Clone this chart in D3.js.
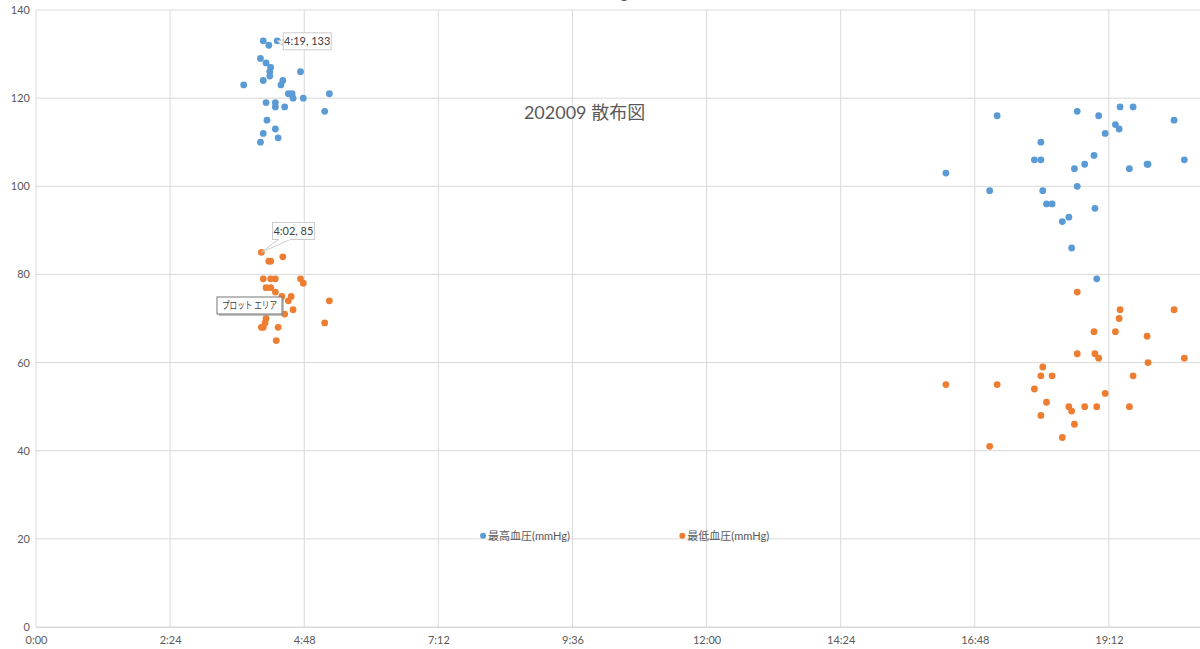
<!DOCTYPE html>
<html>
<head>
<meta charset="utf-8">
<script src="https://cdn.jsdelivr.net/npm/d3@7"></script>
<style>
  body { margin: 0; background: #fff; }
  svg { display: block; }
</style>
</head>
<body>
<div id="chart"></div>
<script>
// 202009 blood pressure scatter (time of day vs mmHg)

// systolic readings: time of day + value
const sysTimes = ["3:43","4:01","4:01","4:04","4:04","4:04","4:07","4:07","4:08","4:10",
  "4:11","4:11","4:12","4:17","4:17","4:17","4:19","4:20","4:23","4:25",
  "4:27","4:31","4:35","4:36","4:44","4:47","5:10","5:15",
  "16:17","17:04","17:12","17:52","17:59","17:59","18:01","18:05","18:11","18:22",
  "18:29","18:32","18:35","18:38","18:38","18:46","18:56","18:57","18:59","19:01",
  "19:08","19:19","19:23","19:24","19:34","19:38","19:53","19:54","20:22","20:33"];
const sysValues = [123,129,110,133,124,112,128,119,115,132,
  126,125,127,119,118,113,133,111,123,124,
  118,121,121,120,126,120,117,121,
  103,99,116,106,110,106,99,96,96,92,
  93,86,104,117,100,105,107,95,79,116,
  112,114,113,118,104,118,105,105,115,106];

// diastolic readings
const diaTimes = ["3:43","4:02","4:02","4:04","4:04","4:06","4:07","4:07","4:10","4:12",
  "4:12","4:12","4:17","4:17","4:17","4:18","4:20","4:24","4:25","4:27",
  "4:31","4:34","4:36","4:44","4:47","5:10","5:15",
  "16:17","17:04","17:12","17:52","17:59","17:59","18:01","18:05","18:11","18:22",
  "18:29","18:32","18:35","18:38","18:38","18:46","18:56","18:57","18:59","19:01",
  "19:08","19:19","19:23","19:24","19:34","19:38","19:53","19:54","20:22","20:33"];
const diaValues = [73,85,68,79,68,69,77,70,83,83,
  79,77,72,79,76,65,68,75,84,71,
  74,75,72,79,78,69,74,
  55,41,55,54,57,48,59,51,57,43,
  50,49,46,62,76,50,67,62,50,61,
  53,67,70,72,50,57,66,60,72,61];

const seriesNames = ["最高血圧(mmHg)", "最低血圧(mmHg)"];
const seriesColors = ["#5b9bd5", "#ed7d31"];
const yTicks = [0, 20, 40, 60, 80, 100, 120, 140];
const xTickStep = 144; // minutes (0.1 day)
const chartTitle = "202009 散布図";

const W = 1200, H = 649;
const margin = {top: 10, right: -43, bottom: 22, left: 36};
const width = W - margin.left - margin.right,
      height = H - margin.top - margin.bottom;

function toMin(t) {
  const p = t.split(":");
  return (+p[0]) * 60 + (+p[1]);
}
function fmtMin(m) {
  const h = Math.floor(m / 60), mm = Math.round(m % 60);
  return h + ":" + String(mm).padStart(2, "0");
}

const sysData = sysTimes.map((t, i) => ({t: toMin(t), v: sysValues[i]}));
const diaData = diaTimes.map((t, i) => ({t: toMin(t), v: diaValues[i]}));

const svg = d3.select("#chart").append("svg")
  .attr("width", W).attr("height", H)
  .style("font-family", "Lato, 'Noto Sans CJK JP', sans-serif");

const g = svg.append("g")
  .attr("transform", "translate(" + margin.left + "," + margin.top + ")");

const x = d3.scaleLinear().domain([0, 1296]).range([0, width]);
const y = d3.scaleLinear().domain([0, 140]).range([height, 0]);
const xTicks = d3.range(0, 1296 + 1, xTickStep);
const xLabelTicks = xTicks.filter(d => x(d) + margin.left < W - 20);

// gridlines
g.append("g").selectAll("line").data(yTicks).enter().append("line")
  .attr("x1", 0).attr("x2", width)
  .attr("y1", d => y(d)).attr("y2", d => y(d))
  .attr("stroke", "#d9d9d9").attr("stroke-width", 1);
g.append("g").selectAll("line").data(xTicks).enter().append("line")
  .attr("x1", d => x(d)).attr("x2", d => x(d))
  .attr("y1", 0).attr("y2", height)
  .attr("stroke", "#d9d9d9").attr("stroke-width", 1);

// axes (labels only, excel style)
const yAxis = g.append("g")
  .call(d3.axisLeft(y).tickValues(yTicks).tickSize(0).tickPadding(6));
yAxis.select(".domain").remove();
yAxis.selectAll("text").attr("fill", "#595959").style("font-size", "11px")
  .style("font-family", "Lato, sans-serif");

const xAxis = g.append("g")
  .attr("transform", "translate(0," + height + ")")
  .call(d3.axisBottom(x).tickValues(xLabelTicks).tickFormat(fmtMin).tickSize(0).tickPadding(9));
xAxis.select(".domain").attr("stroke", "#d9d9d9");
xAxis.selectAll("text").attr("fill", "#595959").style("font-size", "11px")
  .style("font-family", "Lato, sans-serif");

// points
g.append("g").selectAll("circle").data(sysData).enter().append("circle")
  .attr("cx", d => x(d.t)).attr("cy", d => y(d.v)).attr("r", 3.4)
  .attr("fill", seriesColors[0]);
g.append("g").selectAll("circle").data(diaData).enter().append("circle")
  .attr("cx", d => x(d.t)).attr("cy", d => y(d.v)).attr("r", 3.4)
  .attr("fill", seriesColors[1]);

// title inside plot area
g.append("text")
  .attr("x", x(589)).attr("y", y(115.2))
  .attr("text-anchor", "middle")
  .attr("fill", "#595959")
  .style("font-size", "18px")
  .text(chartTitle);

// cut-off text at the very top
svg.append("text")
  .attr("x", 620).attr("y", -2)
  .attr("fill", "#595959")
  .style("font-size", "16px")
  .text("g");

// legend
const legend = g.append("g").selectAll("g").data(seriesNames).enter().append("g")
  .attr("transform", (d, i) => "translate(" + x(i === 0 ? 480 : 694) + "," + (y(20.7)) + ")");
legend.append("circle").attr("r", 3).attr("fill", (d, i) => seriesColors[i]);
legend.append("text").attr("x", 5).attr("dy", "0.35em")
  .attr("fill", "#595959").style("font-size", "11px").text(d => d);

// data labels with callouts
function callout(pt, bx, by, bw, bh, label) {
  const px = x(pt.t), py = y(pt.v);
  const cg = g.append("g");
  cg.append("path")
    .attr("d", "M" + px + "," + py + "L" + (bx) + "," + (by + bh - 4) + "L" + (bx) + "," + (by + bh - 10) + "Z")
    .attr("fill", "#fff").attr("stroke", "#bfbfbf").attr("stroke-width", 0.8);
  cg.append("rect").attr("x", bx).attr("y", by).attr("width", bw).attr("height", bh)
    .attr("fill", "#fff").attr("stroke", "#bfbfbf").attr("stroke-width", 0.8);
  cg.append("text").attr("x", bx + bw / 2).attr("y", by + bh / 2).attr("dy", "0.35em")
    .attr("text-anchor", "middle").attr("fill", "#404040")
    .style("font-size", "11px").style("font-family", "Lato, sans-serif").text(label);
}
const maxPt = sysData.find(d => d.t === toMin("4:19") && d.v === 133);
callout(maxPt, x(maxPt.t) + 6, y(maxPt.v) - 8, 48, 17, fmtMin(maxPt.t) + ", " + maxPt.v);

const lab2 = diaData.find(d => d.t === toMin("4:02") && d.v === 85);
(function () {
  const px = x(lab2.t), py = y(lab2.v);
  const bx = px + 11, by = py - 30, bw = 42, bh = 17;
  const cg = g.append("g");
  cg.append("path")
    .attr("d", "M" + px + "," + py + "L" + (bx + 6) + "," + (by + bh) + "L" + (bx + 18) + "," + (by + bh) + "Z")
    .attr("fill", "#fff").attr("stroke", "#bfbfbf").attr("stroke-width", 0.8);
  cg.append("rect").attr("x", bx).attr("y", by).attr("width", bw).attr("height", bh)
    .attr("fill", "#fff").attr("stroke", "#bfbfbf").attr("stroke-width", 0.8);
  cg.append("line").attr("x1", bx + 6.5).attr("x2", bx + 17.5)
    .attr("y1", by + bh).attr("y2", by + bh).attr("stroke", "#fff").attr("stroke-width", 1.5);
  cg.append("text").attr("x", bx + bw / 2).attr("y", by + bh / 2).attr("dy", "0.35em")
    .attr("text-anchor", "middle").attr("fill", "#404040")
    .style("font-size", "11px").style("font-family", "Lato, sans-serif")
    .text(fmtMin(lab2.t) + ", " + lab2.v);
})();

// hover tooltip "プロット エリア"
const tip = svg.append("g").attr("transform", "translate(217,297)");
tip.append("rect").attr("x", 2).attr("y", 2).attr("width", 65).attr("height", 17)
  .attr("fill", "#9a9a9a").attr("opacity", 0.6);
tip.append("rect").attr("width", 65).attr("height", 17)
  .attr("fill", "#fff").attr("stroke", "#767676").attr("stroke-width", 1);
tip.append("text").attr("x", 5).attr("y", 8.5).attr("dy", "0.35em")
  .attr("fill", "#404040")
  .attr("textLength", 55).attr("lengthAdjust", "spacingAndGlyphs")
  .style("font-size", "10px").style("font-family", "'Noto Sans CJK JP', sans-serif")
  .text("プロット エリア");
</script>
</body>
</html>
